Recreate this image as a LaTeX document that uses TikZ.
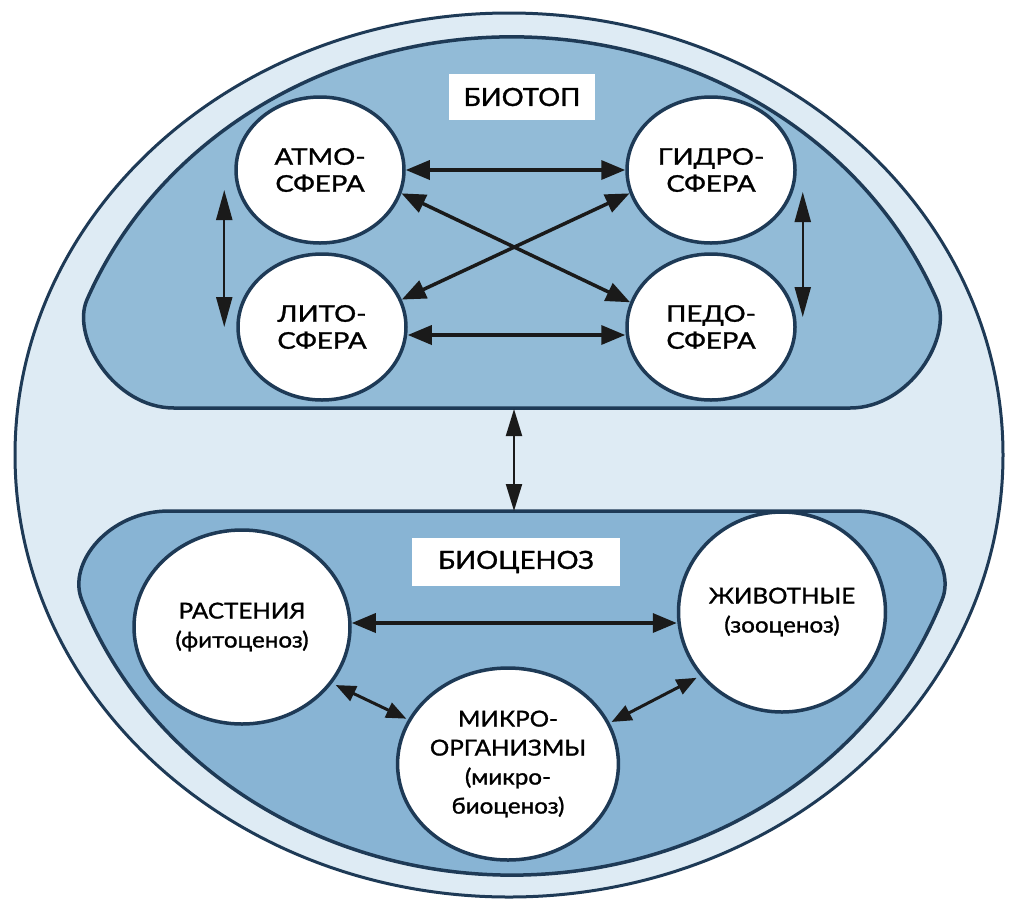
\documentclass[tikz,border=0pt]{standalone}
\usepackage{fontspec}
\setmainfont{Lato}[FakeStretch=1.1,FakeBold=1.2]
\newfontfamily\sphfont{Lato}[FakeStretch=1.2,FakeBold=1.2]
\usetikzlibrary{arrows.meta,calc,shapes.geometric}
\definecolor{lineC}{HTML}{1E3A56}
\definecolor{lightC}{HTML}{DEEBF4}
\definecolor{blobC}{HTML}{92BBD7}
\definecolor{blobD}{HTML}{88B4D4}
\definecolor{arrC}{HTML}{1A1A1A}
\begin{document}
\begin{tikzpicture}[x=1pt,y=-1pt,
  sphere/.style={ellipse, draw=lineC, line width=3.5pt, fill=white,
    minimum width=168pt, minimum height=146pt, inner sep=0pt, align=center,
    font=\sphfont\fontsize{23}{27}\selectfont},
  biocirc/.style={ellipse, draw=lineC, line width=3.5pt, fill=white,
    minimum width=216pt, minimum height=194pt, inner sep=0pt, align=center,
    font=\fontsize{22}{29}\selectfont},
  lbl/.style={fill=white, inner sep=0pt, font=\fontsize{25}{30}\selectfont},
  bigarr/.style={draw=arrC, line width=3.5pt,
    {Triangle[length=24pt,width=19pt]}-{Triangle[length=24pt,width=19pt]}},
  thinarr/.style={draw=arrC, line width=2.2pt,
    {Triangle[length=30pt,width=16pt]}-{Triangle[length=30pt,width=16pt]}},
  midarr/.style={draw=arrC, line width=3pt,
    {Triangle[length=20pt,width=16pt]}-{Triangle[length=20pt,width=16pt]}},
  outline/.style={draw=lineC, line width=3.5pt}
]
\useasboundingbox (0,0) rectangle (1009,906);
\fill[white] (0,0) rectangle (1009,906);

% outer ellipse
\fill[lightC] (509,455) ellipse [x radius=494pt, y radius=442pt];
\draw[lineC, line width=3pt] (509,455) ellipse [x radius=494pt, y radius=442pt];

% biotop blob
\path[outline, fill=blobC] (174,408) -- (850,408)
  .. controls (910,408) and (953,337) .. (937,300)
  arc[start angle=21.85, end angle=158.15, x radius=458pt, y radius=419pt]
  .. controls (71,337) and (114,408) .. (174,408) -- cycle;

% biocenosis blob
\path[outline, fill=blobD] (169,511) -- (855,511)
  .. controls (915,511) and (957,563) .. (942,600)
  arc[start angle=-20.1, end angle=-159.9, x radius=458pt, y radius=419pt]
  .. controls (67,563) and (109,511) .. (169,511) -- cycle;

% labels
\node[lbl, minimum width=146pt, minimum height=46pt] (biotop) at (522,97) {БИОТОП};
\node[lbl, minimum width=208pt, minimum height=48pt] (biocen) at (516,562) {БИОЦЕНОЗ};

% spheres
\node[sphere] (atmo)  at (320,170) {АТМО-\\СФЕРА};
\node[sphere] (hydro) at (711,170) {ГИДРО-\\СФЕРА};
\node[sphere] (lito)  at (322,327) {ЛИТО-\\СФЕРА};
\node[sphere] (pedo)  at (711,327) {ПЕДО-\\СФЕРА};

% biocenosis circles
\node[biocirc] (rast) at (242,627) {РАСТЕНИЯ\\(фитоценоз)};
\node[biocirc, minimum width=202pt, minimum height=200pt] (zhiv) at (782,612) {ЖИВОТНЫЕ\\(зооценоз)};
\node[biocirc, minimum width=212pt, minimum height=192pt] (mikro) at (508,764)
  {МИКРО-\\ОРГАНИЗМЫ\\(микро-\\биоценоз)};

% biotop arrows
\draw[bigarr] (atmo.east) -- (hydro.west);
\draw[bigarr] ([yshift=-8pt]lito.east) -- ([yshift=-8pt]pedo.west);
\draw[bigarr] (atmo.-16) -- (pedo.163);
\draw[bigarr] (hydro.196) -- (lito.19);
\draw[thinarr] ([xshift=-10pt,yshift=-20pt]atmo.west) -- ([xshift=-12pt,yshift=0pt]lito.west);
\draw[thinarr] ([xshift=6pt,yshift=-22pt]hydro.east) -- ([xshift=6pt,yshift=10pt]pedo.east);

% between biotop and biocenosis
\coordinate (btop) at (514,409);
\coordinate (bcen) at (514,511);
\draw[thinarr, line width=2pt, {Triangle[length=27pt,width=16pt]}-{Triangle[length=27pt,width=16pt]}] (btop) -- (bcen);

% biocenosis arrows
\draw[bigarr] ([yshift=4pt]rast.east) -- ([yshift=4pt]rast.east -| zhiv.west);
\draw[midarr, shorten <=4pt, shorten >=2pt] (rast.-32) -- (mikro.156);
\draw[midarr, shorten <=2pt, shorten >=4pt] (mikro.22) -- (zhiv.218);
\end{tikzpicture}
\end{document}
